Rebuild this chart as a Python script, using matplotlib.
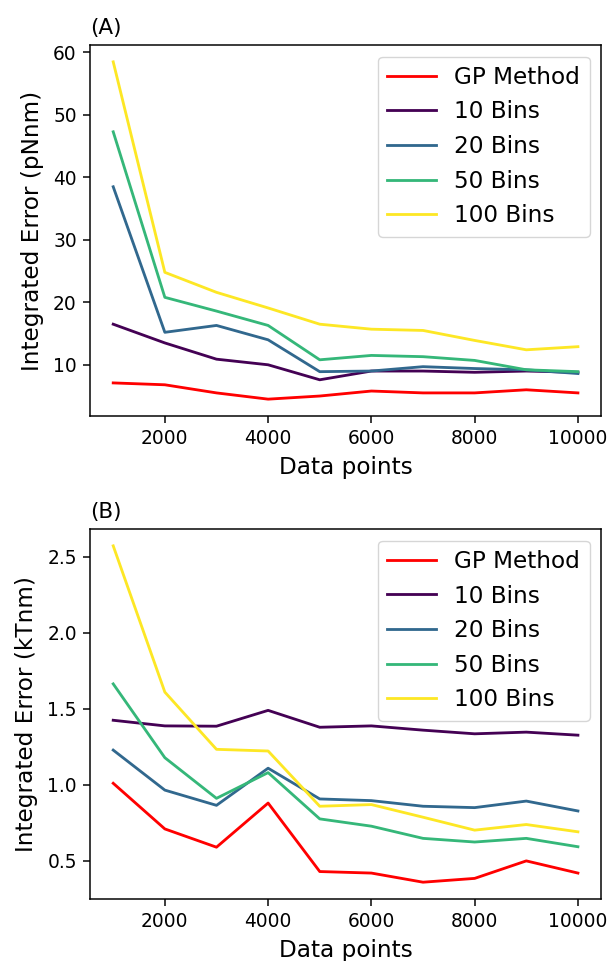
import matplotlib
matplotlib.use("Agg")
import matplotlib.pyplot as plt
import numpy as np

# x values shared by both panels
data_points = [1000, 2000, 3000, 4000, 5000, 6000, 7000, 8000, 9000, 10000]
labels = ["GP Method", "10 Bins", "20 Bins", "50 Bins", "100 Bins"]

# Panel A: integrated error (pNnm)
err_a_gp = [7.1, 6.8, 5.5, 4.5, 5.0, 5.8, 5.5, 5.5, 6.0, 5.5]
err_a_10 = [16.5, 13.5, 10.9, 10.0, 7.6, 9.0, 9.0, 8.8, 9.0, 8.8]
err_a_20 = [38.5, 15.2, 16.3, 14.0, 8.9, 9.0, 9.7, 9.4, 9.2, 8.6]
err_a_50 = [47.3, 20.8, 18.6, 16.3, 10.8, 11.5, 11.3, 10.7, 9.2, 8.9]
err_a_100 = [58.5, 24.8, 21.6, 19.1, 16.5, 15.7, 15.5, 13.9, 12.4, 12.9]

# Panel B: integrated error (kTnm)
err_b_gp = [1.01, 0.71, 0.59, 0.88, 0.43, 0.42, 0.36, 0.385, 0.50, 0.42]
err_b_10 = [1.424, 1.387, 1.385, 1.489, 1.378, 1.387, 1.359, 1.335, 1.346, 1.326]
err_b_20 = [1.228, 0.965, 0.865, 1.109, 0.907, 0.896, 0.859, 0.85, 0.893, 0.828]
err_b_50 = [1.663, 1.178, 0.911, 1.08, 0.776, 0.728, 0.648, 0.624, 0.648, 0.593]
err_b_100 = [2.57, 1.609, 1.233, 1.222, 0.859, 0.87, 0.787, 0.702, 0.739, 0.691]

colors = ["red"] + [plt.cm.viridis(v) for v in np.linspace(0, 1, 4)]

s = 1.35
plt.rcParams.update({
    "font.size": 12 * s,
    "xtick.labelsize": 13.4,
    "ytick.labelsize": 13.4,
    "axes.labelsize": 16.7,
    "axes.labelpad": 4 * s,
    "axes.titlepad": 6 * s,
    "legend.fontsize": 16.7,
    "legend.labelspacing": 0.5,
    "legend.handlelength": 2.1,
    "axes.linewidth": 0.8 * s,
    "xtick.major.width": 0.8 * s,
    "ytick.major.width": 0.8 * s,
    "xtick.major.size": 3.5 * s,
    "ytick.major.size": 3.5 * s,
    "xtick.major.pad": 3.5 * s,
    "ytick.major.pad": 3.5 * s,
})

fig = plt.figure(figsize=(6.1, 9.61), dpi=100)
ax_a = fig.add_axes([0.1475, 0.5671, 0.838, 0.3861])
ax_b = fig.add_axes([0.1475, 0.0645, 0.838, 0.385])

panels = [
    (ax_a, [err_a_gp, err_a_10, err_a_20, err_a_50, err_a_100], "Integrated Error (pNnm)", "(A)"),
    (ax_b, [err_b_gp, err_b_10, err_b_20, err_b_50, err_b_100], "Integrated Error (kTnm)", "(B)"),
]

for ax, series, ylabel, tag in panels:
    for vals, lab, col in zip(series, labels, colors):
        ax.plot(data_points, vals, color=col, label=lab, lw=1.5 * s)
    ax.set_xlabel("Data points")
    ax.set_ylabel(ylabel, labelpad=6.5)
    ax.set_title(tag, loc="left", fontsize=15.5)
    ax.set_xticks([2000, 4000, 6000, 8000, 10000])
    ax.legend(loc="upper right")

ax_b.set_yticks([0.5, 1.0, 1.5, 2.0, 2.5])

fig.savefig("out.png", dpi=100)
